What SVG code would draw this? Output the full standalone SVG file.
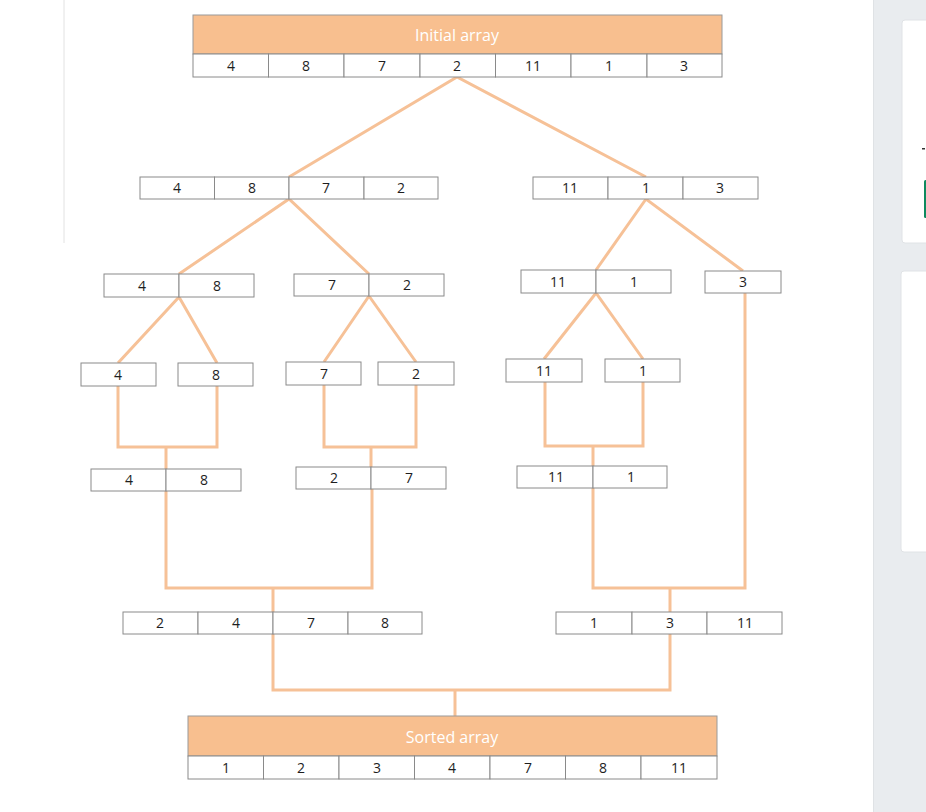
<svg xmlns="http://www.w3.org/2000/svg" width="926" height="812" viewBox="0 0 926 812">
<style>
.c{fill:#fff;stroke:#8a8a8a;stroke-width:1}
.h{fill:#F8BF8F;stroke:#9a9a9a;stroke-width:1}
.t{font-family:"Open Sans","Liberation Sans",sans-serif;font-size:14px;fill:#1e1e1e;text-anchor:middle}
.ht{font-family:"Open Sans","Liberation Sans",sans-serif;font-size:16px;fill:#fff;text-anchor:middle}
.l{fill:none;stroke:#F6C197;stroke-width:3;stroke-linejoin:miter}
</style>
<rect width="926" height="812" fill="#fff"/>
<line x1="64" y1="0" x2="64" y2="243" stroke="#e2e2e2" stroke-width="1"/>
<g id="side-panel">
<rect x="873" y="0" width="53" height="812" fill="#E9ECEF"/>
<line x1="873.5" y1="0" x2="873.5" y2="812" stroke="#dfe2e5"/>
<rect x="902" y="20" width="30" height="223" rx="3" fill="#fff" stroke="#e0e3e6"/>
<rect x="901" y="271" width="30" height="281" rx="3" fill="#fff" stroke="#e0e3e6"/>
<rect x="922" y="148" width="3" height="1.5" fill="#333"/>
<rect x="924" y="180" width="4" height="38" rx="1.5" fill="#0E8A5F"/>
</g>
<g id="connectors">
<polyline class="l" points="289,177 457,77 646,177"/>
<polyline class="l" points="179,274 289,199 369,274"/>
<polyline class="l" points="596,270 646,199 743,271"/>
<polyline class="l" points="118,363 179,297 217,363"/>
<polyline class="l" points="324,362 369,296 416,362"/>
<polyline class="l" points="544,359 596,293 643,359"/>
<polyline class="l" points="118,386 118,447 217,447 217,386"/>
<line class="l" x1="166" y1="447" x2="166" y2="469"/>
<polyline class="l" points="324,385 324,447 416,447 416,385"/>
<line class="l" x1="371" y1="447" x2="371" y2="467"/>
<polyline class="l" points="545,382 545,446 643,446 643,382"/>
<line class="l" x1="593" y1="446" x2="593" y2="466"/>
<polyline class="l" points="166,491 166,588 372,588 372,489"/>
<line class="l" x1="273" y1="588" x2="273" y2="612"/>
<polyline class="l" points="593,488 593,588 745,588 745,293"/>
<line class="l" x1="670" y1="588" x2="670" y2="612"/>
<polyline class="l" points="273,634 273,690 670,690 670,634"/>
<line class="l" x1="455" y1="690" x2="455" y2="716"/>
</g>
<g id="initial">
<rect class="h" x="193" y="15" width="529" height="39"/>
<text class="ht" x="457" y="41">Initial array</text>
<rect class="c" x="193" y="54" width="75.5" height="23"/><text class="t" x="231" y="70.5">4</text>
<rect class="c" x="268.5" y="54" width="75.5" height="23"/><text class="t" x="306" y="70.5">8</text>
<rect class="c" x="344" y="54" width="76" height="23"/><text class="t" x="382" y="70.5">7</text>
<rect class="c" x="420" y="54" width="75.5" height="23"/><text class="t" x="457" y="70.5">2</text>
<rect class="c" x="495.5" y="54" width="75.5" height="23"/><text class="t" x="533" y="70.5">11</text>
<rect class="c" x="571" y="54" width="76" height="23"/><text class="t" x="609" y="70.5">1</text>
<rect class="c" x="647" y="54" width="75" height="23"/><text class="t" x="684" y="70.5">3</text>
</g>
<g id="l1-left">
<rect class="c" x="140" y="177" width="74.5" height="22"/><text class="t" x="177" y="193">4</text>
<rect class="c" x="214.5" y="177" width="74.5" height="22"/><text class="t" x="252" y="193">8</text>
<rect class="c" x="289" y="177" width="75" height="22"/><text class="t" x="326" y="193">7</text>
<rect class="c" x="364" y="177" width="74" height="22"/><text class="t" x="401" y="193">2</text>
</g>
<g id="l1-right">
<rect class="c" x="533" y="177" width="75" height="22"/><text class="t" x="570" y="193">11</text>
<rect class="c" x="608" y="177" width="75" height="22"/><text class="t" x="646" y="193">1</text>
<rect class="c" x="683" y="177" width="75" height="22"/><text class="t" x="720" y="193">3</text>
</g>
<g id="l2-48">
<rect class="c" x="104" y="274" width="75" height="23"/><text class="t" x="142" y="290.5">4</text>
<rect class="c" x="179" y="274" width="75" height="23"/><text class="t" x="217" y="290.5">8</text>
</g>
<g id="l2-72">
<rect class="c" x="294" y="274" width="75" height="22"/><text class="t" x="332" y="290">7</text>
<rect class="c" x="369" y="274" width="75" height="22"/><text class="t" x="407" y="290">2</text>
</g>
<g id="l2-111">
<rect class="c" x="521" y="270" width="75" height="23"/><text class="t" x="558" y="286.5">11</text>
<rect class="c" x="596" y="270" width="75" height="23"/><text class="t" x="634" y="286.5">1</text>
</g>
<g id="l2-3">
<rect class="c" x="705" y="271" width="76" height="22"/><text class="t" x="743" y="287">3</text>
</g>
<g id="l3-4"><rect class="c" x="81" y="363" width="75" height="23"/><text class="t" x="118" y="379.5">4</text></g>
<g id="l3-8"><rect class="c" x="178" y="363" width="75" height="23"/><text class="t" x="216" y="379.5">8</text></g>
<g id="l3-7"><rect class="c" x="286" y="362" width="75" height="23"/><text class="t" x="324" y="378.5">7</text></g>
<g id="l3-2"><rect class="c" x="378" y="362" width="76" height="23"/><text class="t" x="416" y="378.5">2</text></g>
<g id="l3-11"><rect class="c" x="506" y="359" width="76" height="23"/><text class="t" x="544" y="375.5">11</text></g>
<g id="l3-1"><rect class="c" x="605" y="359" width="75" height="23"/><text class="t" x="643" y="375.5">1</text></g>
<g id="m1-48">
<rect class="c" x="91" y="469" width="75" height="22"/><text class="t" x="129" y="485">4</text>
<rect class="c" x="166" y="469" width="75" height="22"/><text class="t" x="204" y="485">8</text>
</g>
<g id="m1-27">
<rect class="c" x="296" y="467" width="75" height="22"/><text class="t" x="334" y="483">2</text>
<rect class="c" x="371" y="467" width="75" height="22"/><text class="t" x="409" y="483">7</text>
</g>
<g id="m1-111">
<rect class="c" x="517" y="466" width="76" height="22"/><text class="t" x="556" y="482">11</text>
<rect class="c" x="593" y="466" width="74" height="22"/><text class="t" x="631" y="482">1</text>
</g>
<g id="m2-left">
<rect class="c" x="123" y="612" width="75" height="22"/><text class="t" x="160" y="628">2</text>
<rect class="c" x="198" y="612" width="75" height="22"/><text class="t" x="236" y="628">4</text>
<rect class="c" x="273" y="612" width="75" height="22"/><text class="t" x="311" y="628">7</text>
<rect class="c" x="348" y="612" width="74" height="22"/><text class="t" x="385" y="628">8</text>
</g>
<g id="m2-right">
<rect class="c" x="556" y="612" width="76" height="22"/><text class="t" x="594" y="628">1</text>
<rect class="c" x="632" y="612" width="75" height="22"/><text class="t" x="670" y="628">3</text>
<rect class="c" x="707" y="612" width="75" height="22"/><text class="t" x="745" y="628">11</text>
</g>
<g id="sorted">
<rect class="h" x="188" y="716" width="529" height="40"/>
<text class="ht" x="452" y="743">Sorted array</text>
<rect class="c" x="188" y="756" width="75.5" height="23"/><text class="t" x="226" y="772.5">1</text>
<rect class="c" x="263.5" y="756" width="75.5" height="23"/><text class="t" x="301" y="772.5">2</text>
<rect class="c" x="339" y="756" width="75.5" height="23"/><text class="t" x="377" y="772.5">3</text>
<rect class="c" x="414.5" y="756" width="75.5" height="23"/><text class="t" x="452" y="772.5">4</text>
<rect class="c" x="490" y="756" width="75.5" height="23"/><text class="t" x="528" y="772.5">7</text>
<rect class="c" x="565.5" y="756" width="75.5" height="23"/><text class="t" x="603" y="772.5">8</text>
<rect class="c" x="641" y="756" width="76" height="23"/><text class="t" x="679" y="772.5">11</text>
</g>
</svg>
